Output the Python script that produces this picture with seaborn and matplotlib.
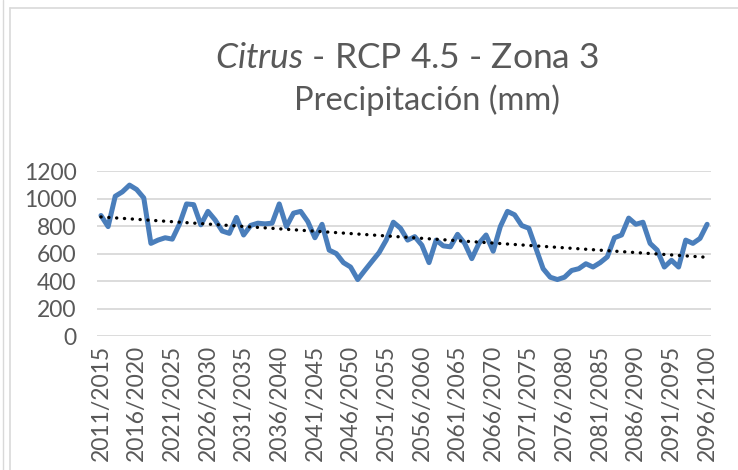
import numpy as np
import pandas as pd
import seaborn as sns
import matplotlib.pyplot as plt
from matplotlib.lines import Line2D

# 5-year moving windows, 2011/2015 ... 2096/2100
start_years = list(range(2011, 2097))
periods = [f"{y}/{y + 4}" for y in start_years]

precip_mm = [877, 796, 1017, 1049, 1098, 1066, 1005, 674, 698, 715,
             705, 813, 961, 956, 809, 907, 845, 764, 747, 863,
             735, 805, 821, 816, 821, 961, 796, 894, 907, 833,
             715, 813, 625, 600, 534, 502, 411, 478, 543, 607,
             698, 828, 784, 698, 723, 661, 534, 698, 656, 649,
             740, 674, 563, 674, 735, 617, 796, 907, 882, 804,
             784, 637, 490, 428, 411, 428, 477, 490, 526, 502,
             534, 576, 715, 735, 858, 813, 828, 674, 625, 502,
             551, 502, 698, 674, 710, 813]

y_ticks = [0, 200, 400, 600, 800, 1000, 1200]

df = pd.DataFrame({"idx": np.arange(len(periods)), "periodo": periods, "precip": precip_mm})
# linear trend line (as in the Excel chart)
coef = np.polyfit(df["idx"], df["precip"], 1)
df["trend"] = np.polyval(coef, df["idx"])

sns.set_theme(style="white")
plt.rcParams["font.family"] = ["Lato", "DejaVu Sans"]
plt.rcParams["mathtext.fontset"] = "custom"
plt.rcParams["mathtext.rm"] = "Lato"
plt.rcParams["mathtext.it"] = "Lato:italic"

grey = "#595959"
fig = plt.figure(figsize=(7.38, 4.70), dpi=100)
ax = fig.add_axes([0.132, 0.285, 0.831, 0.351])

sns.lineplot(data=df, x="idx", y="precip", ax=ax, color="#4a7ebb", linewidth=3.6,
             solid_joinstyle="round", solid_capstyle="round")
sns.lineplot(data=df, x="idx", y="trend", ax=ax, color="black", linewidth=2.4,
             linestyle=(0, (0.05, 2.3)), dash_capstyle="round")

ax.set_xlim(-0.5, len(periods) - 0.5)
ax.set_ylim(0, 1200)
ax.set_yticks(y_ticks)
ax.set_yticklabels([str(v) for v in y_ticks], color=grey, fontsize=16.5)
ax.set_xticks(df["idx"][::5])
ax.set_xticklabels(df["periodo"][::5], rotation=90, color=grey, fontsize=16.5)
ax.tick_params(axis="y", length=0, pad=15)
ax.tick_params(axis="x", length=0, pad=6)
ax.yaxis.grid(True, color="#d9d9d9", linewidth=1.3)
ax.set_axisbelow(True)
for s in ax.spines.values():
    s.set_visible(False)
ax.set_xlabel("")
ax.set_ylabel("")

fig.text(0.552, 0.877, r"$\mathit{Citrus}$ - RCP 4.5 - Zona 3", ha="center", va="center",
         fontsize=25.5, color=grey)
fig.text(0.579, 0.787, "Precipitación (mm)", ha="center", va="center",
         fontsize=23.5, color=grey)

# chart frame
fig.add_artist(Line2D([0.0135, 0.0135], [0, 0.983], color="#d9d9d9", linewidth=1.2))
fig.add_artist(Line2D([0.0135, 1], [0.983, 0.983], color="#d9d9d9", linewidth=1.2))
fig.add_artist(Line2D([0.004, 0.004], [0, 1], color="#d9d9d9", linewidth=1.0))

fig.savefig("out.png", dpi=100)
